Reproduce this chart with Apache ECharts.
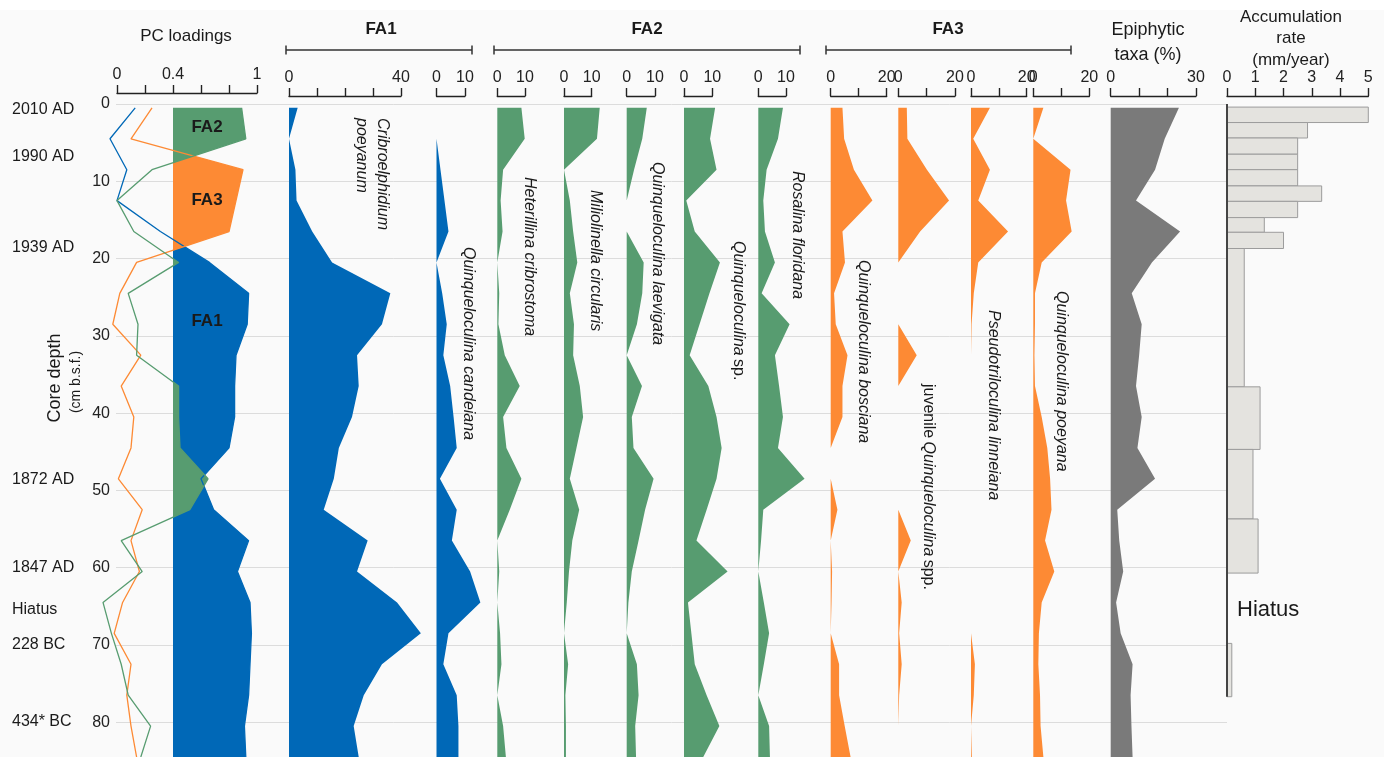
<!DOCTYPE html>
<html>
<head>
<meta charset="utf-8">
<script src="https://cdn.jsdelivr.net/npm/echarts@6/dist/echarts.min.js"></script>
<style>
html, body { margin: 0; padding: 0; background: #fafafa; }
#main { width: 1384px; height: 757px; }
</style>
</head>
<body>
<div id="main"></div>
<script>
// sample depths (cm b.s.f.)
var depths = [0.5, 4.5, 8.5, 12.5, 16.5, 20.5, 24.5, 28.5, 32.5, 36.5, 40.5, 44.5, 48.5, 52.5, 56.5, 60.5, 64.5, 68.5, 72.5, 76.5, 80.5, 84.5];

// PC loadings
var pcFA1 = [0.13, -0.05, 0.07, 0.0, 0.31, 0.66, 0.94, 0.93, 0.85, 0.84, 0.84, 0.80, 0.60, 0.69, 0.94, 0.86, 0.95, 0.96, 0.95, 0.94, 0.91, 0.92];
var pcFA2 = [0.89, 0.92, 0.25, 0.0, 0.12, 0.44, 0.08, 0.15, 0.14, 0.44, 0.44, 0.45, 0.65, 0.52, 0.03, 0.18, -0.10, -0.04, 0.03, 0.08, 0.24, 0.17];
var pcFA3 = [0.25, 0.10, 0.90, 0.85, 0.80, 0.14, 0.02, -0.03, 0.17, 0.03, 0.12, 0.10, 0.01, 0.18, 0.10, 0.16, 0.04, -0.02, 0.10, 0.07, 0.10, 0.14];

// FA1 taxa (%)
var cribroelphidium = [3.1, 0, 2.3, 2.7, 8.3, 15.4, 36.2, 33.2, 24.3, 24.9, 22.5, 17.8, 16.0, 12.4, 28.1, 24.3, 38.6, 47.1, 33.2, 26.7, 23.1, 24.9];
var candeiana = [0, 0, 1.4, 2.8, 4.2, 0, 2.0, 3.6, 2.4, 4.8, 6.0, 7.1, 1.2, 7.1, 5.4, 11.8, 15.4, 4.2, 2.4, 7.1, 7.7, 7.7];

// FA2 taxa (%)
var heterillina = [8.7, 9.9, 2.1, 1.2, 1.9, 0, 0.7, 0.4, 2.7, 8.1, 2.1, 3.3, 8.7, 4.5, 0, 0.7, 0, 1.0, 1.5, 0, 2.1, 3.1];
var miliolinella = [12.9, 11.9, 0, 2.1, 3.3, 4.8, 2.1, 3.6, 3.3, 5.7, 6.9, 4.5, 2.1, 5.5, 3.0, 1.8, 1.0, 0, 1.5, 0.5, 0.7, 0.7];
var laevigata = [7.1, 5.5, 2.6, 0, 0, 6.0, 5.5, 3.6, 0, 5.4, 1.8, 2.4, 9.5, 6.5, 4.2, 1.8, 0.6, 0, 3.6, 4.2, 3.0, 3.3];
var quinqSp = [11.0, 9.2, 11.5, 0.8, 3.8, 12.7, 9.0, 5.5, 2.0, 8.6, 11.5, 13.3, 11.5, 8.0, 4.4, 15.4, 1.4, 2.6, 3.8, 8.0, 12.5, 6.8];
var rosalina = [8.9, 7.1, 3.0, 1.8, 2.4, 6.0, 1.2, 11.3, 6.0, 7.5, 8.9, 7.1, 16.7, 1.8, 1.0, 0, 2.0, 3.9, 2.0, 0, 3.9, 4.2];

// FA3 taxa (%)
var bosciana = [4.2, 4.8, 8.3, 14.9, 4.2, 5.1, 1.2, 1.8, 6.0, 4.2, 4.2, 0, 0, 2.4, 0, 0.5, 0.3, 0, 3.0, 3.0, 5.0, 7.1];
var juvenile = [3.0, 3.2, 10.1, 17.9, 7.7, 0, 0, 0, 6.5, 0, 0, 0, 0, 0, 4.4, 0, 1.2, 0.3, 1.2, 0.3, 0, 0];
var pseudotri = [6.8, 0.8, 6.8, 2.6, 13.3, 2.6, 1.0, 0.2, 0, 0, 0, 0, 0, 0, 0, 0, 0, 0, 1.4, 1.0, 0, 0.3];
var poeyana = [3.6, 0, 13.3, 11.7, 13.7, 3.0, 0.6, 0.6, 0.4, 0.6, 3.0, 5.0, 6.0, 6.5, 4.2, 7.5, 3.0, 2.0, 1.8, 2.4, 2.6, 3.6];

// epiphytic taxa (%)
var epiphytic = [24.0, 19.0, 15.6, 8.9, 24.4, 14.5, 7.4, 10.9, 10.0, 8.9, 10.9, 9.4, 15.6, 2.3, 3.0, 4.4, 1.9, 3.5, 7.7, 7.0, 7.3, 7.7];

// accumulation rate (mm/year) per depth interval
var accTop = [0.4, 2.4, 4.4, 6.5, 8.5, 10.6, 12.6, 14.7, 16.6, 18.7, 36.6, 44.7, 53.7, 69.8];
var accBottom = [2.4, 4.4, 6.5, 8.5, 10.6, 12.6, 14.7, 16.6, 18.7, 36.6, 44.7, 53.7, 60.7, 76.7];
var accRate = [5.0, 2.85, 2.5, 2.5, 2.5, 3.35, 2.5, 1.32, 2.0, 0.61, 1.17, 0.92, 1.1, 0.17];
var accAxisSpan = [0, 76.7];

// dated levels (left side)
var dateLabels = ['2010 AD', '1990 AD', '1939 AD', '1872 AD', '1847 AD', 'Hiatus', '228 BC', '434* BC'];
var dateY = [110, 157, 248, 480, 568, 610, 645, 722];

var BLUE = '#0068b7', GREEN = '#579c70', ORANGE = '#fd8a34', GREY = '#7a7a7a';
var FONT = '"Liberation Sans", Arial, Helvetica, sans-serif';
var TOP = 104, DEPTH_MAX = 84.5;
var PC_MIN = -0.15;

var chart = echarts.init(document.getElementById('main'));

// panel layout: pixel span of each top axis
var panels = [
  { x0: 117, x1: 257, max: 1, interval: 0.2, labels: [0, 0.4, 1], offset: 11 },
  { vals: cribroelphidium, color: BLUE, x0: 289, x1: 401, max: 40, interval: 10, labels: [0, 40] },
  { vals: candeiana, color: BLUE, x0: 436.5, x1: 465, max: 10, interval: 10, labels: [0, 10] },
  { vals: heterillina, color: GREEN, x0: 497.3, x1: 525, max: 10, interval: 10, labels: [0, 10] },
  { vals: miliolinella, color: GREEN, x0: 564, x1: 591.7, max: 10, interval: 10, labels: [0, 10] },
  { vals: laevigata, color: GREEN, x0: 626.7, x1: 655, max: 10, interval: 10, labels: [0, 10] },
  { vals: quinqSp, color: GREEN, x0: 684, x1: 712.3, max: 10, interval: 10, labels: [0, 10] },
  { vals: rosalina, color: GREEN, x0: 758.3, x1: 786, max: 10, interval: 10, labels: [0, 10] },
  { vals: bosciana, color: ORANGE, x0: 830.7, x1: 886.7, max: 20, interval: 10, labels: [0, 20] },
  { vals: juvenile, color: ORANGE, x0: 898.3, x1: 955, max: 20, interval: 10, labels: [0, 20] },
  { vals: pseudotri, color: ORANGE, x0: 971, x1: 1026.7, max: 20, interval: 10, labels: [0, 20] },
  { vals: poeyana, color: ORANGE, x0: 1033.3, x1: 1089.3, max: 20, interval: 10, labels: [0, 20] },
  { vals: epiphytic, color: GREY, x0: 1110.7, x1: 1196, max: 30, interval: 10, labels: [0, 30] },
  { x0: 1227, x1: 1368.3, max: 5, interval: 1, labels: [0, 1, 2, 3, 4, 5] }
];

var grids = [{ left: 116, width: 1111, top: TOP, bottom: 0 }];
var xAxes = [{ gridIndex: 0, type: 'value', min: 0, max: 1, show: false }];
var yAxes = [{
  gridIndex: 0, type: 'value', inverse: true, min: 0, max: DEPTH_MAX, interval: 10,
  axisLine: { show: false }, axisTick: { show: false },
  axisLabel: {
    margin: 6, fontSize: 16, color: '#222', fontFamily: FONT, showMaxLabel: false,
    formatter: function (v) { return (v % 10 === 0 && v <= 80) ? String(v) : ''; }
  },
  splitLine: { show: true, showMaxLine: false, lineStyle: { color: '#dcdcdc', width: 1 } }
}];

panels.forEach(function (p, i) {
  var gi = i + 1;
  grids.push({ left: p.x0, width: p.x1 - p.x0, top: TOP, bottom: 0 });
  xAxes.push({
    gridIndex: gi, type: 'value', position: 'top', min: 0, max: p.max, interval: p.interval,
    offset: p.offset || 8,
    axisLine: { show: true, onZero: false, lineStyle: { color: '#222', width: 1.4 } },
    axisTick: { show: true, inside: false, length: 8, lineStyle: { color: '#222', width: 1.4 } },
    axisLabel: {
      margin: 10, fontSize: 16, color: '#222', fontFamily: FONT,
      showMinLabel: true, showMaxLabel: true,
      formatter: function (v) {
        for (var k = 0; k < p.labels.length; k++) {
          if (Math.abs(v - p.labels[k]) < 1e-6) return String(p.labels[k]);
        }
        return '';
      }
    },
    splitLine: { show: false }
  });
  yAxes.push({ gridIndex: gi, type: 'value', inverse: true, min: 0, max: DEPTH_MAX, show: false });
});

// hidden data grid for the loadings, widened so that negative loadings stay visible
var pc = panels[0];
var pcScale = (pc.x1 - pc.x0) / pc.max;
var PC_GRID = grids.length;
grids.push({ left: pc.x0 + PC_MIN * pcScale, width: (pc.max - PC_MIN) * pcScale, top: TOP, bottom: 0 });
xAxes.push({ gridIndex: PC_GRID, type: 'value', min: PC_MIN, max: pc.max, show: false });
yAxes.push({ gridIndex: PC_GRID, type: 'value', inverse: true, min: 0, max: DEPTH_MAX, show: false });

function speciesArea(gi, vals, color) {
  return {
    type: 'custom', xAxisIndex: gi, yAxisIndex: gi, clip: false, silent: true, z: 2,
    data: [[0, 0]],
    renderItem: function (params, api) {
      var pts = [api.coord([0, depths[0]])];
      for (var i = 0; i < vals.length; i++) pts.push(api.coord([vals[i], depths[i]]));
      pts.push(api.coord([0, depths[depths.length - 1]]));
      return { type: 'polygon', shape: { points: pts }, style: { fill: color } };
    }
  };
}

// parts of a loading curve above the 0.4 threshold
function runsAbove(vals, th) {
  var runs = [], cur = null, t, pv, pd;
  for (var i = 0; i < vals.length; i++) {
    var v = vals[i], d = depths[i];
    if (v > th) {
      if (!cur) {
        if (i === 0) cur = [[th, d]];
        else {
          pv = vals[i - 1]; pd = depths[i - 1];
          t = (th - pv) / (v - pv);
          cur = [[th, pd + t * (d - pd)]];
        }
      }
      cur.push([v, d]);
    } else if (cur) {
      pv = vals[i - 1]; pd = depths[i - 1];
      t = (pv - th) / (pv - v);
      cur.push([th, pd + t * (d - pd)]);
      runs.push(cur); cur = null;
    }
  }
  if (cur) { cur.push([th, depths[depths.length - 1]]); runs.push(cur); }
  return runs;
}

function pcArea(vals, color) {
  return {
    type: 'custom', xAxisIndex: PC_GRID, yAxisIndex: PC_GRID, clip: false, silent: true, z: 2,
    data: [[0, 0]],
    renderItem: function (params, api) {
      var children = runsAbove(vals, 0.4).map(function (run) {
        return { type: 'polygon', shape: { points: run.map(function (q) { return api.coord(q); }) }, style: { fill: color } };
      });
      return { type: 'group', children: children };
    }
  };
}

function pcLine(vals, color) {
  return {
    type: 'line', xAxisIndex: PC_GRID, yAxisIndex: PC_GRID, clip: false, silent: true, z: 3,
    symbol: 'none', animation: false,
    data: vals.map(function (v, i) { return [v, depths[i]]; }),
    lineStyle: { color: color, width: 1.3 }
  };
}

var series = [
  pcArea(pcFA1, BLUE), pcArea(pcFA3, ORANGE), pcArea(pcFA2, GREEN),
  pcLine(pcFA1, BLUE), pcLine(pcFA3, ORANGE), pcLine(pcFA2, GREEN)
];
panels.forEach(function (p, i) {
  if (p.vals) series.push(speciesArea(i + 1, p.vals, p.color));
});

var accIdx = panels.length;
series.push({
  type: 'custom', xAxisIndex: accIdx, yAxisIndex: accIdx, clip: false, silent: true, z: 2,
  data: accRate.map(function (r, i) { return [r, accTop[i], accBottom[i]]; }),
  renderItem: function (params, api) {
    var a = api.coord([0, api.value(1)]);
    var b = api.coord([api.value(0), api.value(2)]);
    return {
      type: 'rect',
      shape: { x: a[0], y: a[1], width: b[0] - a[0], height: b[1] - a[1] },
      style: { fill: '#e4e3df', stroke: '#9c9c9c', lineWidth: 1 }
    };
  }
});
series.push({
  type: 'custom', xAxisIndex: accIdx, yAxisIndex: accIdx, clip: false, silent: true, z: 3,
  data: [[0, accAxisSpan[0], accAxisSpan[1]]],
  renderItem: function (params, api) {
    var a = api.coord([0, api.value(1)]);
    var b = api.coord([0, api.value(2)]);
    return { type: 'line', shape: { x1: a[0], y1: a[1], x2: b[0], y2: b[1] }, style: { stroke: '#444', lineWidth: 2 } };
  }
});

function txt(x, y, text, size, opts) {
  opts = opts || {};
  return {
    type: 'text', x: x, y: y, rotation: opts.rotation || 0, z: 10, silent: true,
    style: {
      text: text, fill: opts.color || '#1a1a1a',
      font: (opts.italic ? 'italic ' : '') + (opts.bold ? 'bold ' : '') + size + 'px ' + FONT,
      textAlign: opts.align || 'center', textVerticalAlign: opts.valign || 'middle',
      lineHeight: opts.lineHeight
    }
  };
}
function bracket(x0, x1, y) {
  return {
    type: 'polyline', z: 10, silent: true,
    shape: { points: [[x0, y - 4.5], [x0, y + 4.5], [x0, y], [x1, y], [x1, y - 4.5], [x1, y + 4.5]] },
    style: { stroke: '#333', lineWidth: 1.5, fill: null }
  };
}
var ROT = -Math.PI / 2;
var SP = 16;
function species(x, y, text) {
  return txt(x, y, text, SP, { italic: true, rotation: ROT, align: 'left', valign: 'middle', lineHeight: 21 });
}
function speciesRich(x, y, text) {
  return {
    type: 'text', x: x, y: y, rotation: ROT, z: 10, silent: true,
    style: {
      text: text, textAlign: 'left', textVerticalAlign: 'middle',
      rich: { i: { font: 'italic ' + SP + 'px ' + FONT, fill: '#1a1a1a' }, n: { font: SP + 'px ' + FONT, fill: '#1a1a1a' } }
    }
  };
}

var graphics = [
  { type: 'rect', shape: { x: 0, y: 0, width: 1384, height: 10 }, style: { fill: '#ffffff' }, z: -1, silent: true },
  txt(186, 36, 'PC loadings', 17),
  txt(381, 29, 'FA1', 17, { bold: true }),
  txt(647, 29, 'FA2', 17, { bold: true }),
  txt(948, 29, 'FA3', 17, { bold: true }),
  bracket(286, 472, 50), bracket(494, 800, 50), bracket(826, 1071, 50),
  txt(1148, 30, 'Epiphytic', 18),
  txt(1148, 55, 'taxa (%)', 18),
  txt(1291, 17, 'Accumulation', 17),
  txt(1291, 38, 'rate', 17),
  txt(1291, 60, '(mm/year)', 17),
  txt(207, 127, 'FA2', 17, { bold: true }),
  txt(207, 200, 'FA3', 17, { bold: true }),
  txt(207, 321, 'FA1', 17, { bold: true }),
  txt(55, 378, 'Core depth', 18, { rotation: Math.PI / 2 }),
  txt(76, 382, '(cm b.s.f.)', 14, { rotation: Math.PI / 2 }),
  txt(1237, 610, 'Hiatus', 22, { align: 'left' }),
  species(372, 118, 'Cribroelphidium\npoeyanum'),
  species(468, 247, 'Quinqueloculina candeiana'),
  species(529, 177, 'Heterillina cribrostoma'),
  species(595, 190, 'Miliolinella circularis'),
  species(657, 162, 'Quinqueloculina laevigata'),
  speciesRich(738, 241, '{i|Quinqueloculina} {n|sp.}'),
  species(797, 171, 'Rosalina floridana'),
  species(863, 260, 'Quinqueloculina bosciana'),
  speciesRich(928, 384, '{n|juvenile} {i|Quinqueloculina} {n|spp.}'),
  species(993, 310, 'Pseudotriloculina linneiana'),
  species(1061, 291, 'Quinqueloculina poeyana')
];
dateLabels.forEach(function (s, i) {
  graphics.push(txt(12, dateY[i], s, 16, { align: 'left' }));
});

chart.setOption({
  backgroundColor: '#fafafa',
  animation: false,
  grid: grids,
  xAxis: xAxes,
  yAxis: yAxes,
  series: series,
  graphic: graphics
});
</script>
</body>
</html>
